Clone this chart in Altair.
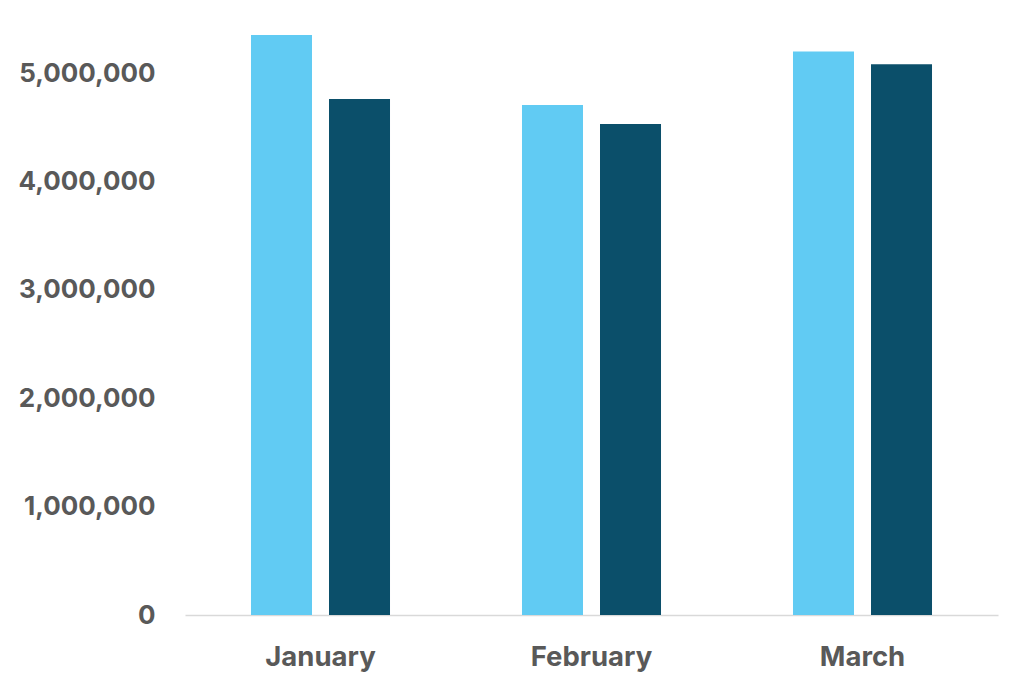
import altair as alt
import pandas as pd

months = ["January", "February", "March"]
series = ["Series A", "Series B"]
values_a = [5353000, 4707000, 5200000]
values_b = [4763000, 4532000, 5083000]
colors = ["#61CBF3", "#0B4F6A"]

rows = []
for m, a, b in zip(months, values_a, values_b):
    rows.append({"month": m, "series": series[0], "value": a})
    rows.append({"month": m, "series": series[1], "value": b})
df = pd.DataFrame(rows)

FONT = "Inter"
chart = alt.Chart(df).mark_bar().encode(
    x=alt.X("month:N", sort=months, title=None,
            scale=alt.Scale(paddingInner=0.487, paddingOuter=0.2435),
            axis=alt.Axis(labelAngle=0, ticks=False, domainColor="#D9D9D9",
                          domainWidth=1.5, labelFont=FONT, labelFontSize=27.5,
                          labelFontWeight="bold", labelColor="#595959",
                          labelPadding=28)),
    xOffset=alt.XOffset("series:N", sort=series,
                        scale=alt.Scale(paddingInner=0.218, paddingOuter=0)),
    y=alt.Y("value:Q", title=None,
            scale=alt.Scale(domain=[0, 5353000], nice=False),
            axis=alt.Axis(values=[0, 1000000, 2000000, 3000000, 4000000, 5000000],
                          format=",d", grid=False, domain=False, ticks=False,
                          labelFont=FONT, labelFontSize=26, labelFontWeight="bold",
                          labelColor="#595959", labelPadding=30)),
    color=alt.Color("series:N", sort=series,
                    scale=alt.Scale(domain=series, range=colors), legend=None),
).properties(
    width=813, height=580,
    autosize=alt.AutoSizeParams(type="none"),
    padding={"left": 177, "top": 27, "right": 10, "bottom": 60},
).configure_view(stroke=None)

chart.save("out.html", embed_options={"renderer": "svg", "actions": False})
